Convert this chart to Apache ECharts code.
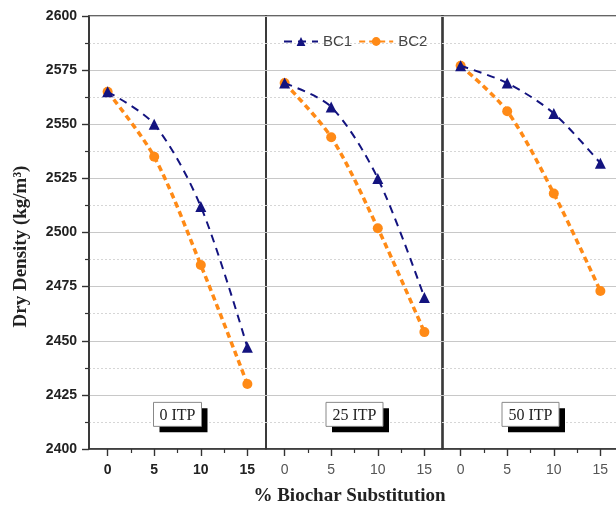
<!DOCTYPE html>
<html>
<head>
<meta charset="utf-8">
<script src="https://cdn.jsdelivr.net/npm/echarts@6/dist/echarts.min.js"></script>
<style>
  html, body { margin: 0; padding: 0; background: #fff; }
  #chart { width: 616px; height: 507px; }
</style>
</head>
<body>
<div id="chart"></div>
<script>
// Dry density (kg/m3) vs % biochar substitution, three ITP levels
const substitution = [0, 5, 10, 15];
const panelNames = ['0 ITP', '25 ITP', '50 ITP'];
const bc1_0 = [2565, 2550, 2512, 2447];
const bc2_0 = [2565, 2535, 2485, 2430];
const bc1_25 = [2569, 2558, 2525, 2470];
const bc2_25 = [2569, 2544, 2502, 2454];
const bc1_50 = [2577, 2569, 2555, 2532];
const bc2_50 = [2577, 2556, 2518, 2473];
const majorTicksX = [0, 5, 10, 15];
const minorTicksX = [2.5, 7.5, 12.5];

const bc1Sets = [bc1_0, bc1_25, bc1_50];
const bc2Sets = [bc2_0, bc2_25, bc2_50];

const NAVY = '#13137f';
const ORANGE = '#ff8a16';
const AXIS = '#333333';

const chart = echarts.init(document.getElementById('chart'), null, { renderer: 'canvas' });

const gridLefts = [89, 266, 442];
const grids = gridLefts.map(l => ({
  left: l, top: 16, width: 177, height: 433,
  containLabel: false, outerBoundsMode: 'none',
  show: true, borderColor: AXIS, borderWidth: 1.6, backgroundColor: 'transparent'
}));

const xAxes = [];
const yAxes = [];
for (let i = 0; i < 3; i++) {
  // major ticks + labels
  xAxes.push({
    type: 'value', gridIndex: i, min: -2, max: 17, position: 'bottom', offset: 0,
    axisLine: { show: true, onZero: false, lineStyle: { color: AXIS, width: 1.6 } },
    axisTick: { show: true, customValues: majorTicksX, length: 7, lineStyle: { color: AXIS, width: 1.4 } },
    axisLabel: {
      customValues: majorTicksX, margin: 14,
      fontFamily: 'Liberation Sans', fontSize: 14,
      fontWeight: i === 0 ? 'bold' : 'normal',
      color: i === 0 ? '#222' : '#555'
    },
    splitLine: { show: false },
    name: i === 1 ? '% Biochar Substitution' : '',
    nameLocation: 'middle', nameGap: 38,
    nameTextStyle: { fontFamily: 'Liberation Serif', fontWeight: 'bold', fontSize: 19, color: '#222', padding: [0, 10, 0, 0] }
  });
  // minor ticks
  xAxes.push({
    type: 'value', gridIndex: i, min: -2, max: 17, position: 'bottom', offset: 0,
    axisLine: { show: false, onZero: false },
    axisTick: { show: true, customValues: minorTicksX, length: 4, lineStyle: { color: AXIS, width: 1.2 } },
    axisLabel: { show: false },
    splitLine: { show: false }
  });
  yAxes.push({
    type: 'value', gridIndex: i, min: 2400, max: 2600, interval: 25, position: 'left',
    axisLine: { show: i === 0, onZero: false, lineStyle: { color: AXIS, width: 1.6 } },
    axisTick: { show: i === 0, length: 7, lineStyle: { color: AXIS, width: 1.4 } },
    minorTick: { show: i === 0, splitNumber: 2, length: 4, lineStyle: { color: AXIS, width: 1.2 } },
    axisLabel: {
      show: i === 0, margin: 12, formatter: v => String(v),
      fontFamily: 'Liberation Sans', fontSize: 14, fontWeight: 'bold', color: '#222'
    },
    splitLine: { show: true, lineStyle: { color: '#c8c8c8', width: 1.2 } },
    minorSplitLine: { show: true, lineStyle: { color: '#d6d6d6', width: 1, type: [2, 2] } },
    name: i === 0 ? 'Dry Density (kg/m³)' : '',
    nameLocation: 'middle', nameGap: 58,
    nameTextStyle: { fontFamily: 'Liberation Serif', fontWeight: 'bold', fontSize: 19, color: '#222', padding: [0, 28, 0, 0] }
  });
}

const series = [];
for (let i = 0; i < 3; i++) {
  series.push({
    name: 'BC1', type: 'line', xAxisIndex: 2 * i, yAxisIndex: i,
    data: substitution.map((x, k) => [x, bc1Sets[i][k]]),
    smooth: 0.3, symbol: 'triangle', symbolSize: 11,
    itemStyle: { color: NAVY },
    lineStyle: { color: NAVY, width: 2, type: [8, 6] },
    z: 3
  });
  series.push({
    name: 'BC2', type: 'line', xAxisIndex: 2 * i, yAxisIndex: i,
    data: substitution.map((x, k) => [x, bc2Sets[i][k]]),
    smooth: 0.3, symbol: 'circle', symbolSize: 10,
    itemStyle: { color: ORANGE },
    lineStyle: { color: ORANGE, width: 3.5, type: [6, 4] },
    z: 2
  });
}

chart.setOption({
  animation: false,
  backgroundColor: '#fff',
  grid: grids,
  xAxis: xAxes,
  yAxis: yAxes,
  legend: {
    left: 283, top: 34, padding: 0, itemWidth: 34, itemHeight: 11, itemGap: 6,
    textStyle: { fontFamily: 'Liberation Sans', fontSize: 15, color: '#444' },
    data: ['BC1', 'BC2']
  },
  series: series
});

// Panel caption boxes with a black drop shadow
const widths = [48, 57, 57];
const graphics = panelNames.map((txt, i) => {
  const p = chart.convertToPixel({ xAxisIndex: 2 * i, yAxisIndex: i }, [7.5, 2416]);
  const w = widths[i], h = 24;
  return {
    type: 'group', x: p[0] - w / 2, y: p[1] - h / 2, z: 20,
    children: [
      { type: 'rect', shape: { x: 6, y: 6, width: w, height: h }, style: { fill: '#000' } },
      { type: 'rect', shape: { x: 0, y: 0, width: w, height: h }, style: { fill: '#fff', stroke: '#888', lineWidth: 1 } },
      { type: 'text', x: w / 2, y: h / 2 + 1, style: { text: txt, font: '16px "Liberation Serif"', fill: '#222', align: 'center', verticalAlign: 'middle' } }
    ]
  };
});
chart.setOption({ graphic: graphics });
</script>
</body>
</html>
